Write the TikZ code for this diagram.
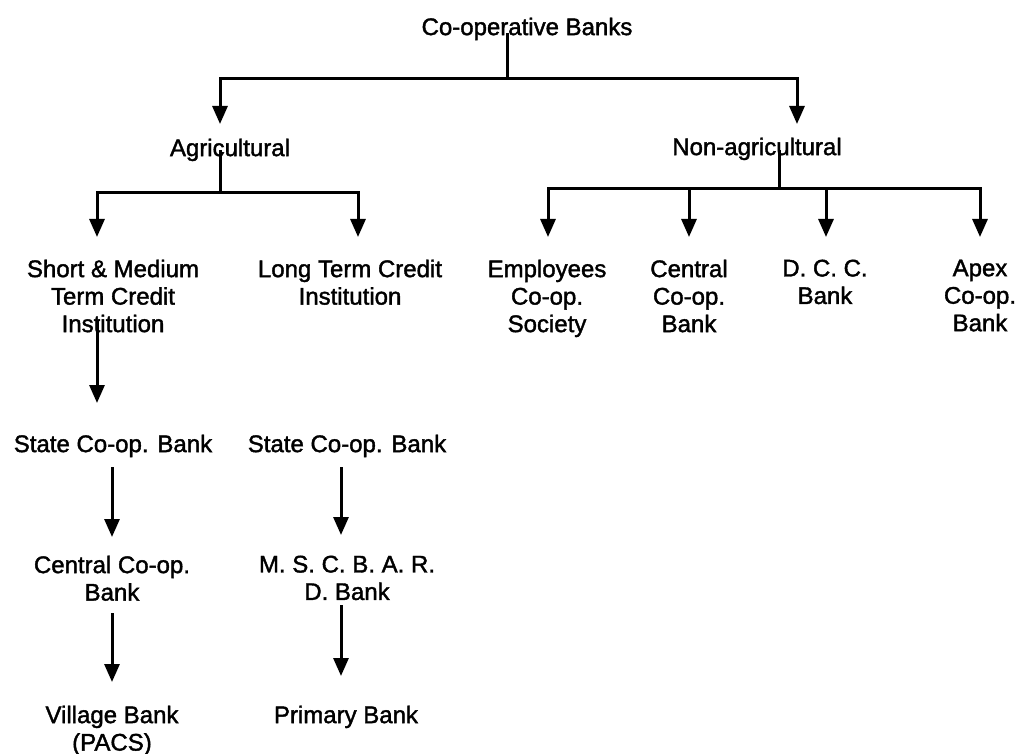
\documentclass[tikz,border=0pt]{standalone}
\usepackage{fontspec}
\setmainfont{Liberation Sans}
\newfontfamily\heavysans{Liberation Sans}[FakeBold=1.6]
\usetikzlibrary{arrows.meta}
\begin{document}
\begin{tikzpicture}[x=1pt,y=-1pt,
  lbl/.style={font=\heavysans\fontsize{24}{27.5}\selectfont, align=center, inner sep=0pt, anchor=north},
  conn/.style={line width=3pt, line join=miter},
  arr/.style={line width=3pt, line join=miter, -{Triangle[length=18pt,width=15pt]}}]
\useasboundingbox (0,0) rectangle (1021,754);
% nodes
\node[lbl] (root) at (527,17.5) {Co-operative Banks};
\node[lbl] (agr)  at (230,138.5) {Agricultural};
\node[lbl] (nagr) at (757,137.5) {Non-agricultural};
\node[lbl] (sm)   at (113,259.5) {Short \& Medium\\Term Credit\\Institution};
\node[lbl] (lt)   at (350,259.5) {Long Term Credit\\Institution};
\node[lbl] (emp)  at (547,259.5) {Employees\\Co-op.\\Society};
\node[lbl] (cen)  at (689,259.5) {Central\\Co-op.\\Bank};
\node[lbl] (dcc)  at (825,259.5) {D. C. C.\\Bank};
\node[lbl] (apex) at (980,259.5) {Apex\\Co-op.\\Bank};
\node[lbl] (sb1)  at (113,434.5) {State Co-op. Bank};
\node[lbl] (sb2)  at (347,434.5) {State Co-op. Bank};
\node[lbl] (ccb)  at (112,555.5) {Central Co-op.\\Bank};
\node[lbl] (msc)  at (347,555.5) {M. S. C. B. A. R.\\D. Bank};
\node[lbl] (vb)   at (112,705.5) {Village Bank\\(PACS)};
\node[lbl] (pb)   at (346,705.5) {Primary Bank};
% junction coordinates
\coordinate (r0) at (507,33);   \coordinate (r1) at (507,79);
\coordinate (ta) at (220,124);  \coordinate (tn) at (797,124);
\coordinate (a0) at (220,150);  \coordinate (a1) at (220,193);
\coordinate (tsm) at (97,237);  \coordinate (tlt) at (358,237);
\coordinate (n0) at (779,150);  \coordinate (n1) at (779,189);
\coordinate (temp) at (548,237); \coordinate (tcen) at (689,237);
\coordinate (tdcc) at (826,237); \coordinate (tapx) at (980,237);
\coordinate (s0) at (97,320);   \coordinate (ts1) at (97,403);
\coordinate (b0) at (112,467);  \coordinate (tb0) at (112,537);
\coordinate (b1) at (341,467);  \coordinate (tb1) at (341,535);
\coordinate (c0) at (112,613);  \coordinate (tc0) at (112,682);
\coordinate (c1) at (341,605);  \coordinate (tc1) at (341,676);
% connectors
\draw[conn] (r0) -- (r1);
\draw[arr] (r1) -| (ta);
\draw[arr] (r1) -| (tn);
\draw[conn] (a0) -- (a1);
\draw[arr] (a1) -| (tsm);
\draw[arr] (a1) -| (tlt);
\draw[conn] (n0) -- (n1);
\draw[arr] (n1) -| (temp);
\draw[arr] (n1) -| (tcen);
\draw[arr] (n1) -| (tdcc);
\draw[arr] (n1) -| (tapx);
\draw[arr] (s0) -- (ts1);
\draw[arr] (b0) -- (tb0);
\draw[arr] (b1) -- (tb1);
\draw[arr] (c0) -- (tc0);
\draw[arr] (c1) -- (tc1);
\end{tikzpicture}
\end{document}
